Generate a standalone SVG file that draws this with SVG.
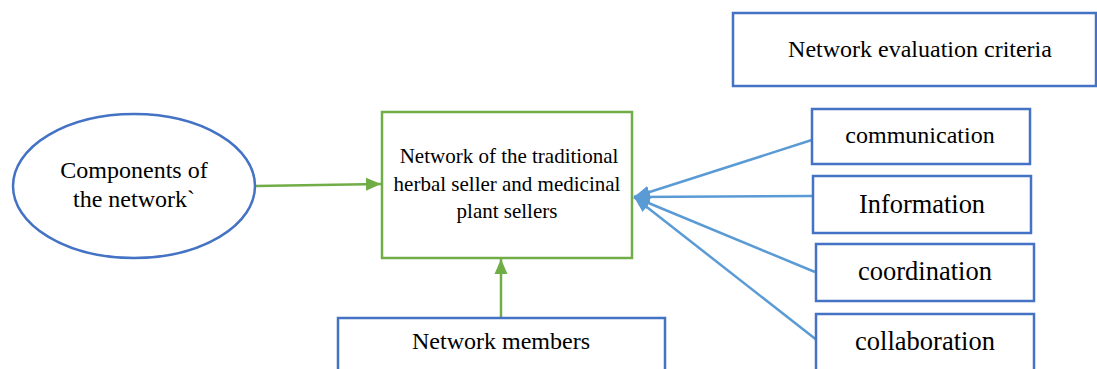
<svg xmlns="http://www.w3.org/2000/svg" width="1097" height="369" viewBox="0 0 1097 369">
<style>
  .box { fill: #fff; stroke: #4472C4; stroke-width: 2.5; }
  .gbox { fill: #fff; stroke: #70AD47; stroke-width: 2.5; }
  .t { font-family: "Liberation Serif", "Times New Roman", serif; fill: #000; text-anchor: middle; }
  .bl { stroke: #5B9BD5; stroke-width: 2.5; fill: none; }
  .gl { stroke: #70AD47; stroke-width: 2.5; fill: none; }
</style>
<defs>
  <marker id="ab" markerUnits="userSpaceOnUse" markerWidth="17" markerHeight="13" refX="16" refY="6.5" orient="auto">
    <path d="M0,0 L16,6.5 L0,13 z" fill="#5B9BD5"/>
  </marker>
  <marker id="ag" markerUnits="userSpaceOnUse" markerWidth="16" markerHeight="14" refX="15" refY="7" orient="auto">
    <path d="M0,0.5 L15,7 L0,13.5 z" fill="#70AD47"/>
  </marker>
</defs>
<g id="connectors">
  <line class="gl" x1="256" y1="186" x2="381" y2="184" marker-end="url(#ag)"/>
  <line class="gl" x1="501" y1="318" x2="501" y2="259" marker-end="url(#ag)"/>
  <line class="bl" x1="818" y1="138" x2="634" y2="197" marker-end="url(#ab)"/>
  <line class="bl" x1="813" y1="196" x2="634" y2="197" marker-end="url(#ab)"/>
  <line class="bl" x1="815" y1="272" x2="634" y2="197" marker-end="url(#ab)"/>
  <line class="bl" x1="818" y1="341" x2="634" y2="197" marker-end="url(#ab)"/>
</g>
<g id="criteria-title">
  <rect class="box" x="733" y="13" width="363" height="73"/>
  <text class="t" x="920" y="57" font-size="24">Network evaluation criteria</text>
</g>
<g id="components">
  <ellipse cx="134" cy="186" rx="121" ry="72" fill="#fff" stroke="#4472C4" stroke-width="2.5"/>
  <text class="t" x="134" y="178" font-size="24">Components of</text>
  <text class="t" x="134" y="207" font-size="24">the network`</text>
</g>
<g id="network">
  <rect class="gbox" x="382" y="112" width="250" height="146"/>
  <text class="t" x="509" y="163" font-size="21">Network of the traditional</text>
  <text class="t" x="507" y="191" font-size="21">herbal seller and medicinal</text>
  <text class="t" x="507" y="218" font-size="21">plant sellers</text>
</g>
<g id="members">
  <rect class="box" x="338" y="318" width="327" height="60"/>
  <text class="t" x="501" y="349" font-size="24">Network members</text>
</g>
<g id="communication">
  <rect class="box" x="812" y="109" width="218" height="55"/>
  <text class="t" x="920" y="143" font-size="24">communication</text>
</g>
<g id="information">
  <rect class="box" x="813" y="176" width="218" height="57"/>
  <text class="t" x="922" y="213" font-size="26.4">Information</text>
</g>
<g id="coordination">
  <rect class="box" x="816" y="244" width="218" height="57"/>
  <text class="t" x="925" y="280" font-size="26.5">coordination</text>
</g>
<g id="collaboration">
  <rect class="box" x="816" y="314" width="218" height="64"/>
  <text class="t" x="925" y="350" font-size="26.5">collaboration</text>
</g>
</svg>
